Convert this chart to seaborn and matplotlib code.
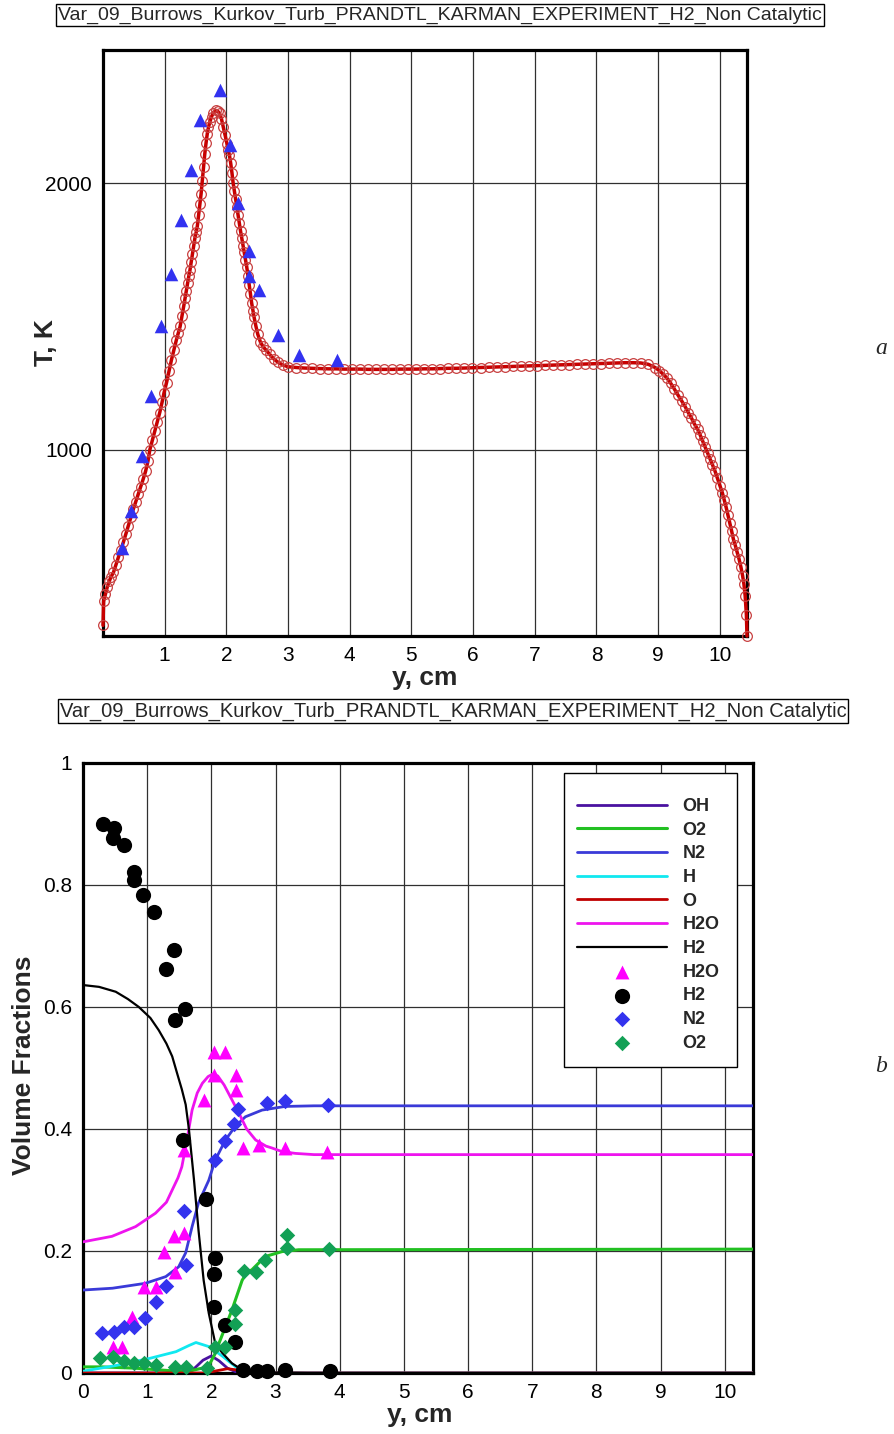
import numpy as np
import pandas as pd
import matplotlib
matplotlib.use("Agg")
import matplotlib.pyplot as plt
from matplotlib import font_manager
from matplotlib.patches import Rectangle
from matplotlib.ticker import MultipleLocator, FuncFormatter
import seaborn as sns

sns.set_theme(style="white")
plt.rcParams["font.family"] = ["Liberation Sans", "DejaVu Sans"]

TITLE = "Var_09_Burrows_Kurkov_Turb_PRANDTL_KARMAN_EXPERIMENT_H2_Non Catalytic"

# ---------------- temperature profile (calculation) ----------------
y_calc = [
    0.00, 0.01, 0.04, 0.07, 0.10, 0.13, 0.17, 0.21, 0.25, 0.29, 0.33, 0.37, 0.41, 0.45,
    0.49, 0.53, 0.57, 0.61, 0.65, 0.69, 0.73, 0.76, 0.80, 0.84, 0.88, 0.92, 0.96, 0.99,
    1.03, 1.07, 1.11, 1.15, 1.19, 1.22, 1.25, 1.28, 1.31, 1.33, 1.35, 1.37, 1.39, 1.41,
    1.43, 1.45, 1.47, 1.49, 1.51, 1.53, 1.55, 1.57, 1.59, 1.61, 1.63, 1.65, 1.67, 1.69,
    1.71, 1.73, 1.76, 1.79, 1.83,
    1.86, 1.89, 1.92, 1.95, 1.98, 2.01, 2.03, 2.05, 2.07, 2.09, 2.11, 2.13, 2.15, 2.17,
    2.19, 2.21, 2.23, 2.25, 2.27, 2.29, 2.31, 2.33, 2.35, 2.37, 2.39, 2.41, 2.43, 2.45,
    2.48, 2.51, 2.55, 2.59, 2.64, 2.70, 2.77, 2.84, 2.92, 3.00,
    3.13, 3.26, 3.39, 3.52, 3.65, 3.78, 3.91, 4.04, 4.17, 4.30, 4.43, 4.56, 4.69, 4.82,
    4.95, 5.08, 5.21, 5.34, 5.47, 5.60, 5.73, 5.86, 5.99, 6.12, 6.25, 6.38, 6.51, 6.64,
    6.77, 6.90, 7.03, 7.16, 7.29, 7.42, 7.55, 7.68, 7.81, 7.94, 8.07, 8.20, 8.33, 8.46,
    8.59, 8.72, 8.84, 8.95,
    9.02, 9.08, 9.14, 9.20, 9.26, 9.32, 9.38, 9.44, 9.49, 9.54, 9.59, 9.64, 9.68, 9.72,
    9.76, 9.80, 9.84, 9.88, 9.92, 9.96, 10.00, 10.04, 10.07, 10.10, 10.13, 10.16, 10.19,
    10.22, 10.25, 10.28, 10.31, 10.34, 10.37, 10.39, 10.41, 10.43, 10.44,
]
t_calc = [
    340, 430, 458, 485, 505, 522, 539, 568, 596, 624, 652, 683, 714, 745,
    775, 803, 832, 860, 888, 918, 958, 1000, 1035, 1070, 1104, 1139, 1180, 1214,
    1251, 1295, 1337, 1375, 1412, 1437, 1462, 1500, 1540, 1568, 1597, 1625, 1650, 1674,
    1704, 1734, 1764, 1794, 1815, 1840, 1880, 1920, 1960, 2008, 2060, 2110, 2150, 2185,
    2210, 2228, 2250, 2265, 2273,
    2270, 2262, 2242, 2211, 2180, 2148, 2125, 2105, 2075, 2040, 2000, 1970, 1940, 1910,
    1880, 1850, 1820, 1793, 1766, 1740, 1713, 1686, 1653, 1619, 1585, 1550, 1522, 1496,
    1462, 1432, 1405, 1388, 1374, 1358, 1340, 1327, 1317, 1311,
    1308, 1306, 1305, 1304, 1303, 1303, 1302, 1302, 1302, 1301, 1301, 1301, 1301, 1302,
    1302, 1302, 1303, 1303, 1304, 1305, 1305, 1306, 1307, 1308, 1309, 1310, 1311, 1312,
    1313, 1314, 1315, 1316, 1317, 1318, 1319, 1320, 1321, 1322, 1323, 1324, 1325, 1326,
    1326, 1325, 1320, 1308,
    1296, 1283, 1269, 1250, 1228, 1205, 1183, 1160, 1138, 1118, 1095, 1076, 1055, 1032,
    1010, 988, 965, 943, 920, 893, 865, 838, 812, 785, 755, 725, 695,
    663, 640, 615, 590, 560, 525, 495, 451, 380, 300,
]

# ---------------- temperature (experiment) ----------------
y_exp_t = [0.30, 0.45, 0.63, 0.78, 0.94, 1.11, 1.26, 1.43, 1.57, 1.89, 2.06, 2.19,
           2.36, 2.37, 2.53, 2.84, 3.17, 3.79]
t_exp = [632, 769, 975, 1200, 1464, 1658, 1861, 2051, 2236, 2348, 2142, 1924,
         1745, 1653, 1599, 1431, 1356, 1337]

# ---------------- volume fractions (calculation) ----------------
y_h2 = [0.0, 0.25, 0.51, 0.70, 0.87, 1.05, 1.18, 1.30, 1.39, 1.47, 1.54, 1.60, 1.65,
        1.73, 1.80, 1.88, 1.96, 2.06, 2.17, 2.32, 2.48, 2.70, 3.50, 10.44]
v_h2 = [0.636, 0.633, 0.625, 0.613, 0.600, 0.582, 0.562, 0.540, 0.519, 0.490, 0.465,
        0.440, 0.400, 0.316, 0.234, 0.152, 0.098, 0.049, 0.033, 0.016, 0.005, 0.001,
        0.0, 0.0]

y_h2o = [0.0, 0.45, 0.82, 1.13, 1.30, 1.39, 1.48, 1.54, 1.62, 1.70, 1.78, 1.86, 1.95,
         2.02, 2.10, 2.20, 2.30, 2.43, 2.55, 2.69, 2.85, 2.94, 3.10, 3.31, 3.60, 10.44]
v_h2o = [0.215, 0.224, 0.240, 0.262, 0.280, 0.300, 0.320, 0.338, 0.382, 0.431, 0.459,
         0.475, 0.486, 0.490, 0.487, 0.472, 0.452, 0.426, 0.400, 0.382, 0.372, 0.369,
         0.363, 0.360, 0.358, 0.358]

y_n2 = [0.0, 0.46, 0.97, 1.29, 1.49, 1.60, 1.70, 1.80, 1.96, 2.06, 2.22, 2.37, 2.53,
        2.79, 3.15, 3.60, 10.44]
v_n2 = [0.136, 0.139, 0.147, 0.158, 0.174, 0.197, 0.240, 0.279, 0.316, 0.349, 0.382,
        0.404, 0.420, 0.431, 0.437, 0.438, 0.438]

y_o2 = [0.0, 0.30, 0.80, 1.20, 1.60, 1.95, 2.05, 2.12, 2.22, 2.32, 2.48, 2.56, 2.63,
        2.84, 3.10, 3.36, 10.44]
v_o2 = [0.010, 0.010, 0.008, 0.005, 0.002, 0.010, 0.030, 0.049, 0.076, 0.103, 0.152,
        0.166, 0.169, 0.191, 0.199, 0.202, 0.203]

y_h = [0.0, 0.50, 1.04, 1.45, 1.65, 1.76, 1.97, 2.18, 2.38, 2.60, 3.00, 10.44]
v_h = [0.003, 0.012, 0.024, 0.035, 0.045, 0.050, 0.043, 0.027, 0.010, 0.002, 0.0, 0.0]

y_oh = [0.0, 1.60, 1.71, 1.87, 2.00, 2.12, 2.25, 2.40, 2.60, 10.44]
v_oh = [0.0, 0.0, 0.005, 0.021, 0.028, 0.020, 0.008, 0.001, 0.0, 0.0]

y_o = [0.0, 1.90, 2.10, 2.25, 2.40, 2.60, 2.80, 10.44]
v_o = [0.0, 0.0, 0.004, 0.007, 0.005, 0.001, 0.0, 0.0]

# ---------------- volume fractions (experiment) ----------------
ye_h2o = [2.04, 2.21, 2.04, 2.38, 2.38, 1.88, 2.50, 2.74, 3.15, 3.80, 1.57, 1.57, 1.42,
          1.26, 1.44, 0.95, 1.13, 0.77, 0.46, 0.61]
ve_h2o = [0.527, 0.527, 0.489, 0.489, 0.464, 0.448, 0.369, 0.374, 0.369, 0.363, 0.366,
          0.229, 0.224, 0.199, 0.166, 0.141, 0.141, 0.092, 0.043, 0.043]

ye_h2 = [0.31, 0.48, 0.46, 0.64, 0.79, 0.79, 0.93, 1.10, 1.42, 1.30, 1.59, 1.44, 1.56,
         1.91, 2.06, 2.04, 2.04, 2.22, 2.37, 2.50, 2.71, 2.87, 3.15, 3.85]
ve_h2 = [0.900, 0.893, 0.877, 0.866, 0.822, 0.808, 0.784, 0.755, 0.693, 0.663, 0.596,
         0.579, 0.382, 0.286, 0.188, 0.163, 0.109, 0.079, 0.051, 0.005, 0.004, 0.004,
         0.005, 0.004]

ye_n2 = [0.29, 0.48, 0.64, 0.79, 0.97, 1.13, 1.29, 1.60, 1.57, 2.06, 2.21, 2.35, 2.42,
         2.87, 3.15, 3.82]
ve_n2 = [0.066, 0.068, 0.076, 0.076, 0.090, 0.117, 0.143, 0.177, 0.266, 0.349, 0.380,
         0.409, 0.432, 0.443, 0.446, 0.439]

ye_o2 = [0.27, 0.46, 0.64, 0.79, 0.95, 1.13, 1.44, 1.60, 1.93, 2.06, 2.22, 2.37, 2.37,
         2.51, 2.69, 2.84, 3.18, 3.18, 3.83]
ve_o2 = [0.024, 0.026, 0.019, 0.016, 0.016, 0.013, 0.010, 0.010, 0.008, 0.043, 0.043,
         0.081, 0.103, 0.168, 0.166, 0.186, 0.227, 0.205, 0.204]

X_TICKS = [1, 2, 3, 4, 5, 6, 7, 8, 9, 10]
X_TICKS_B = [0, 1, 2, 3, 4, 5, 6, 7, 8, 9, 10]

W, H = 895, 1434
fig = plt.figure(figsize=(W / 100, H / 100), dpi=100)
ax1 = fig.add_axes([103 / W, 1 - 636 / H, (747 - 103) / W, (636 - 50) / H])
ax2 = fig.add_axes([83 / W, 1 - 1373 / H, (753 - 83) / W, (1373 - 763) / H])


def style_axes(ax):
    ax.set_axisbelow(True)
    ax.grid(True, which="major", color="#303030", lw=0.9)
    ax.grid(False, which="minor")
    for sp in ax.spines.values():
        sp.set_linewidth(2.3)
        sp.set_color("black")
        sp.set_visible(True)
    ax.tick_params(which="major", direction="in", length=10, width=2.0,
                   labelsize=15, colors="black", top=False, right=False)
    ax.tick_params(which="minor", direction="in", length=5, width=1.0,
                   top=False, right=False)
    ax.tick_params(axis="x", which="major", pad=7)
    ax.tick_params(axis="y", which="major", pad=8)


# ---------------- upper panel: temperature ----------------
calc = pd.DataFrame({"y": y_calc, "T": t_calc})
sns.lineplot(data=calc, x="y", y="T", ax=ax1, estimator=None, sort=False,
             color="#c80000", lw=2.5, marker="o", markersize=7,
             markerfacecolor="none", markeredgecolor="#c84040",
             markeredgewidth=0.9, clip_on=False, zorder=3)
sns.scatterplot(x=y_exp_t, y=t_exp, ax=ax1, marker="^", s=95, color="#3232f0",
                linewidth=0, zorder=4, clip_on=False)
ax1.set_xlim(0, 10.44)
ax1.set_ylim(300, 2500)
ax1.set_xticks(X_TICKS)
ax1.xaxis.set_minor_locator(MultipleLocator(0.2))
ax1.yaxis.set_major_locator(MultipleLocator(1000))
ax1.yaxis.set_minor_locator(MultipleLocator(200))
style_axes(ax1)
ax1.set_xlabel("y, cm", fontsize=19, fontweight="bold")
ax1.set_ylabel("T, K", fontsize=19, fontweight="bold")
ax1.xaxis.set_label_coords(0.5, -0.052)
ax1.yaxis.set_label_coords(-0.07, 0.5)

# ---------------- lower panel: volume fractions ----------------
line_specs = [
    ("OH", y_oh, v_oh, "#4a12a0", 2.0),
    ("O2", y_o2, v_o2, "#22c022", 2.2),
    ("N2", y_n2, v_n2, "#3a3ad8", 2.0),
    ("H", y_h, v_h, "#10e8f0", 2.0),
    ("O", y_o, v_o, "#c00000", 2.0),
    ("H2O", y_h2o, v_h2o, "#ee14ee", 2.0),
    ("H2", y_h2, v_h2, "#000000", 1.6),
]
handles, labels = [], []
for name, xs, vs, col, lw in line_specs:
    sns.lineplot(x=xs, y=vs, ax=ax2, estimator=None, sort=False, color=col, lw=lw,
                 legend=False, zorder=3)
    handles.append(ax2.lines[-1])
    labels.append(name)

marker_specs = [
    ("H2O", ye_h2o, ve_h2o, "^", 100, "#ff00ff"),
    ("H2", ye_h2, ve_h2, "o", 120, "#000000"),
    ("N2", ye_n2, ve_n2, "D", 62, "#3333ee"),
    ("O2", ye_o2, ve_o2, "D", 62, "#12a055"),
]
for name, xs, vs, mk, size, col in marker_specs:
    sns.scatterplot(x=xs, y=vs, ax=ax2, marker=mk, s=size, color=col, linewidth=0,
                    legend=False, zorder=4, clip_on=False)
    handles.append(ax2.collections[-1])
    labels.append(name)

ax2.set_xlim(0, 10.44)
ax2.set_ylim(0, 1)
ax2.set_xticks(X_TICKS_B)
ax2.xaxis.set_minor_locator(MultipleLocator(0.2))
ax2.yaxis.set_major_locator(MultipleLocator(0.2))
ax2.yaxis.set_minor_locator(MultipleLocator(0.05))
ax2.yaxis.set_major_formatter(FuncFormatter(lambda v, p: f"{v:g}"))
style_axes(ax2)
ax2.set_xlabel("y, cm", fontsize=19, fontweight="bold")
ax2.set_ylabel("Volume Fractions", fontsize=19, fontweight="bold")
ax2.xaxis.set_label_coords(0.503, -0.049)
ax2.yaxis.set_label_coords(-0.07, 0.505)

# legend frame drawn as a plain box, entries placed inside it
ax2.add_patch(Rectangle(((564 - 83) / 670, (1373 - 1067) / 610),
                        (737 - 564) / 670, (1067 - 773) / 610,
                        transform=ax2.transAxes, fc="white", ec="black", lw=1.0,
                        zorder=5, clip_on=False))
leg = ax2.legend(handles, labels, loc="upper left",
                 bbox_to_anchor=((577 - 83) / 670, (1373 - 798) / 610),
                 prop={"size": 13, "weight": "bold"}, handlelength=5.0,
                 handletextpad=0.85, labelspacing=0.37, borderpad=0,
                 borderaxespad=0, frameon=False, scatterpoints=1)
leg.set_zorder(6)

# ---------------- captions ----------------
names = {f.name for f in font_manager.fontManager.ttflist}
if "Liberation Sans Narrow" in names:
    cap_font, cap_sizes = "Liberation Sans Narrow", (16.8, 17.4)
else:
    cap_font, cap_sizes = "Liberation Sans", (14, 14.5)
box = dict(boxstyle="square,pad=0.1", fc="white", ec="black", lw=1.0)
fig.text(440 / W, 1 - 15 / H, TITLE, ha="center", va="center",
         fontsize=cap_sizes[0], family=cap_font, bbox=box)
fig.text(453 / W, 1 - 711 / H, TITLE, ha="center", va="center",
         fontsize=cap_sizes[1], family=cap_font, bbox=box)
fig.text(881 / W, 1 - 349 / H, "a", ha="center", va="center", fontsize=17,
         family="Liberation Serif", style="italic")
fig.text(881 / W, 1 - 1066 / H, "b", ha="center", va="center", fontsize=17,
         family="Liberation Serif", style="italic")

fig.savefig("out.png", dpi=100)
